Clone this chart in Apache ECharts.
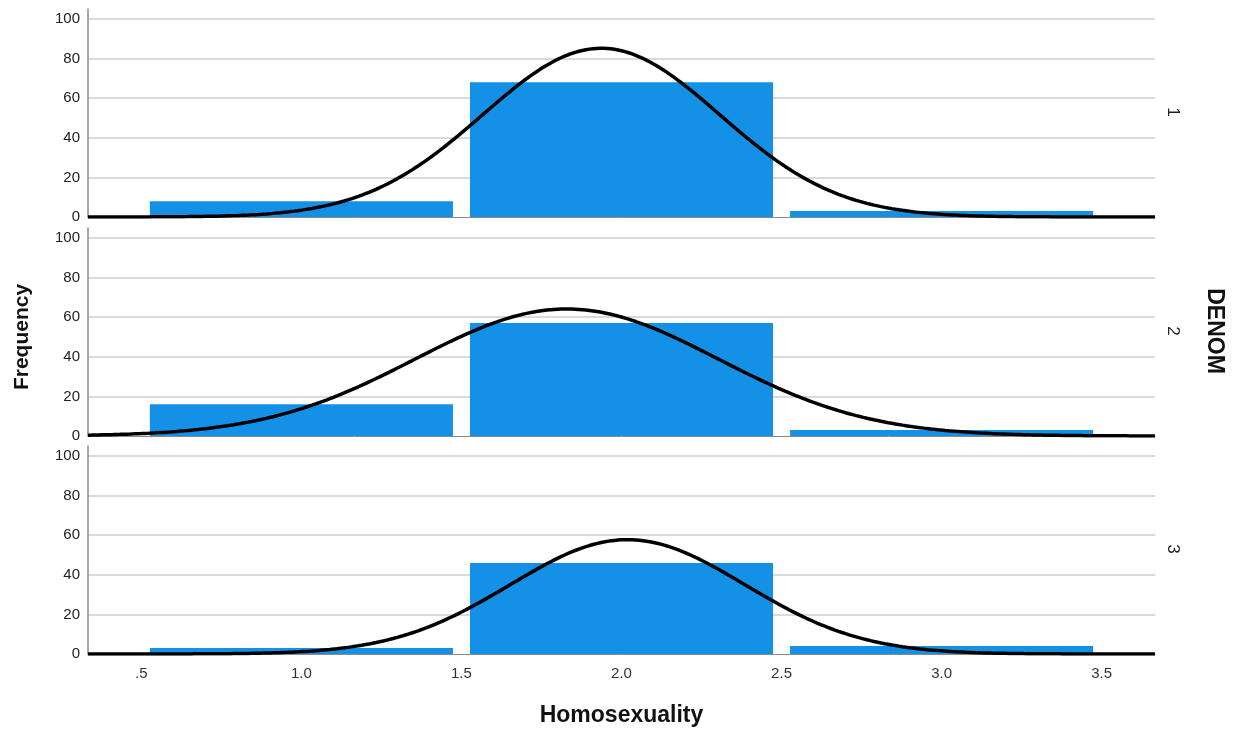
<!DOCTYPE html>
<html>
<head>
<meta charset="utf-8">
<script src="https://cdn.jsdelivr.net/npm/echarts@6.0.0/dist/echarts.min.js"></script>
<style>
  html, body { margin: 0; padding: 0; background: #ffffff; }
  #chart { width: 1233px; height: 729px; }
</style>
</head>
<body>
<div id="chart"></div>
<script>
// Histogram bins (Homosexuality score) and frequencies per DENOM group
const binCenters = [1, 2, 3];
const binWidth = 1;
const groupNames = ['1', '2', '3'];
const denom1 = [8, 68, 3];
const denom2 = [16, 57, 3];
const denom3 = [3, 46, 4];
const xTickValues = [0.5, 1.0, 1.5, 2.0, 2.5, 3.0, 3.5];
const yTickValues = [0, 20, 40, 60, 80, 100];
const xMin = 1 / 3;
const xMax = 11 / 3;

const groups = [denom1, denom2, denom3];

const FONT = "'Liberation Sans', Arial, sans-serif";
const BAR_COLOR = '#1491e6';
const GRID_LEFT = 88;
const GRID_RIGHT = 78;
const GRID_HEIGHT = 208;
const gridTops = [9, 228, 446];

// Fitted normal curve from the group's mean and standard deviation,
// scaled to counts per bin (as in a histogram with normal overlay)
function normalCurve(counts) {
  const n = counts.reduce((a, b) => a + b, 0);
  const mean = counts.reduce((s, c, i) => s + c * binCenters[i], 0) / n;
  const ss = counts.reduce((s, c, i) => s + c * Math.pow(binCenters[i] - mean, 2), 0);
  const sd = Math.sqrt(ss / (n - 1));
  const scale = n * binWidth / (sd * Math.sqrt(2 * Math.PI));
  const pts = [];
  const steps = 300;
  for (let k = 0; k <= steps; k++) {
    const x = xMin + (xMax - xMin) * k / steps;
    const z = (x - mean) / sd;
    pts.push([x, scale * Math.exp(-0.5 * z * z)]);
  }
  return pts;
}

function fmtX(v) {
  const s = (Math.round(v * 10) / 10).toFixed(1);
  return s.startsWith('0.') ? s.slice(1) : s;
}

const grid = [], xAxis = [], yAxis = [], series = [];

groups.forEach((counts, g) => {
  grid.push({ left: GRID_LEFT, right: GRID_RIGHT, top: gridTops[g], height: GRID_HEIGHT });
  const isBottom = g === groups.length - 1;
  xAxis.push({
    type: 'value', gridIndex: g, min: xMin, max: xMax,
    axisLine: { show: true, onZero: false, lineStyle: { color: '#8a8a8a', width: 1 } },
    axisTick: { show: false },
    splitLine: { show: false },
    axisLabel: {
      show: isBottom, customValues: xTickValues, formatter: fmtX,
      color: '#333', fontFamily: FONT, fontSize: 15, margin: 12
    }
  });
  yAxis.push({
    type: 'value', gridIndex: g, min: 0, max: 105,
    axisLine: { show: true, lineStyle: { color: '#8a8a8a', width: 1.5 } },
    axisTick: { show: false },
    axisLabel: {
      customValues: yTickValues, color: '#222', fontFamily: FONT, fontSize: 15, margin: 8
    },
    splitLine: {
      show: true, showMinLine: false, showMaxLine: false,
      lineStyle: { color: '#cecece', width: 1.5 }
    }
  });
  series.push({
    type: 'custom', xAxisIndex: g, yAxisIndex: g, z: 2,
    encode: { x: [0, 1], y: 2 },
    data: binCenters.map((c, i) => [c - binWidth / 2, c + binWidth / 2, counts[i]]),
    renderItem: function (params, api) {
      const lo = api.coord([api.value(0), 0]);
      const hi = api.coord([api.value(1), api.value(2)]);
      const inset = 8.5;
      return {
        type: 'rect',
        shape: { x: lo[0] + inset, y: hi[1], width: hi[0] - lo[0] - 2 * inset, height: lo[1] - hi[1] },
        style: { fill: BAR_COLOR }
      };
    }
  });
  series.push({
    type: 'line', xAxisIndex: g, yAxisIndex: g, z: 5,
    data: normalCurve(counts), showSymbol: false, smooth: false, silent: true,
    lineStyle: { color: '#000', width: 3.5 }
  });
});

const graphic = [
  {
    type: 'text', x: 22, y: 337, rotation: Math.PI / 2,
    style: { text: 'Frequency', font: `bold 21px ${FONT}`, fill: '#111', align: 'center', verticalAlign: 'middle' }
  },
  {
    type: 'text', x: 621.5, y: 716,
    style: { text: 'Homosexuality', font: `bold 23px ${FONT}`, fill: '#111', align: 'center', verticalAlign: 'middle' }
  },
  {
    type: 'text', x: 1214, y: 331, rotation: -Math.PI / 2,
    style: { text: 'DENOM', font: `bold 23px ${FONT}`, fill: '#111', align: 'center', verticalAlign: 'middle' }
  }
];
groupNames.forEach((name, g) => {
  graphic.push({
    type: 'text', x: 1173, y: gridTops[g] + GRID_HEIGHT / 2 - 1, rotation: -Math.PI / 2,
    style: { text: name, font: `17px ${FONT}`, fill: '#222', align: 'center', verticalAlign: 'middle' }
  });
});

const chart = echarts.init(document.getElementById('chart'), null, { renderer: 'canvas' });
chart.setOption({
  animation: false,
  backgroundColor: '#ffffff',
  grid, xAxis, yAxis, series, graphic
});
</script>
</body>
</html>
